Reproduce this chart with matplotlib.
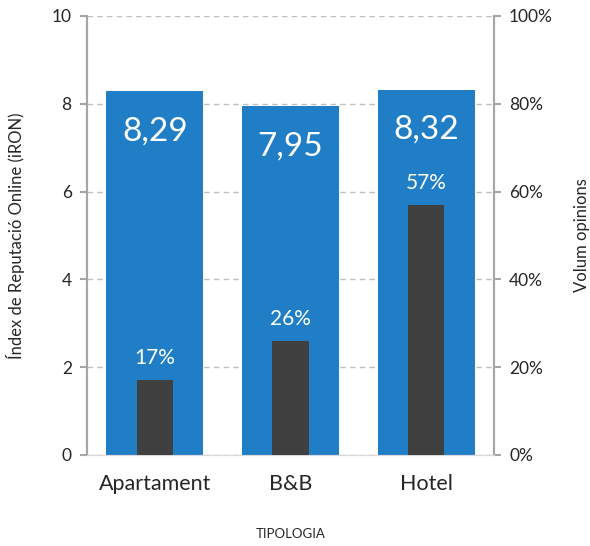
import matplotlib
matplotlib.use("Agg")
import matplotlib.pyplot as plt
import numpy as np

categories = ["Apartament", "B&B", "Hotel"]
iron_values = [8.29, 7.95, 8.32]
volume_pct = [17, 26, 57]
left_ticks = [0, 2, 4, 6, 8, 10]
right_ticks = [0, 20, 40, 60, 80, 100]

plt.rcParams['font.family'] = ['Lato', 'DejaVu Sans']

blue = "#1F7EC6"
dark = "#404040"
grey = "#A6A6A6"

fig = plt.figure(figsize=(5.9, 5.46), dpi=100)
ax = fig.add_axes([0.1475, 0.1667, 0.837 - 0.1475, 0.9707 - 0.1667])
ax2 = ax.twinx()

x = np.arange(len(categories))
ax.set_xlim(-0.5, len(categories) - 0.5)
ax.set_ylim(0, 10)
ax2.set_ylim(0, 100)

ax.set_axisbelow(True)
ax.yaxis.grid(True, linestyle=(0, (4, 3)), color="#BFBFBF", linewidth=1)
ax.bar(x, iron_values, width=0.715, color=blue, zorder=2)
ax2.bar(x, volume_pct, width=0.27, color=dark, zorder=3)

for xi, v in zip(x, iron_values):
    ax.annotate(f"{v:.2f}".replace(".", ","), (xi, v), xytext=(0, -29),
                textcoords="offset points", ha="center", va="center",
                color="white", fontsize=24)
for xi, v in zip(x, volume_pct):
    ax2.annotate(f"{v}%", (xi, v), xytext=(0, 16), textcoords="offset points",
                 ha="center", va="center", color="white", fontsize=15)

ax.set_yticks(left_ticks)
ax.set_yticklabels([str(t) for t in left_ticks], fontsize=12.5, color="#262626")
ax2.set_yticks(right_ticks)
ax2.set_yticklabels([f"{t}%" for t in right_ticks], fontsize=12.5, color="#262626")
ax.set_xticks(x)
ax.set_xticklabels(categories, fontsize=15.5, color="#262626")
ax.tick_params(axis="x", length=0, pad=14)
ax.tick_params(axis="y", length=5, color=grey, width=1.5, pad=6)
ax2.tick_params(axis="y", length=5, color=grey, width=1.5, pad=6)

for a in (ax, ax2):
    a.spines["top"].set_visible(False)
    a.spines["left"].set_color(grey)
    a.spines["right"].set_color(grey)
    a.spines["left"].set_linewidth(1.5)
    a.spines["right"].set_linewidth(1.5)
    a.spines["bottom"].set_color("#D9D9D9")

ax.set_ylabel("Índex de Reputació Online (iRON)", fontsize=12, color="#262626", labelpad=19)
ax2.set_ylabel("Volum opinions", fontsize=12, color="#262626", labelpad=15)
ax.set_xlabel("TIPOLOGIA", fontsize=9.5, color="#262626", labelpad=24)

fig.savefig("out.png", dpi=100)
